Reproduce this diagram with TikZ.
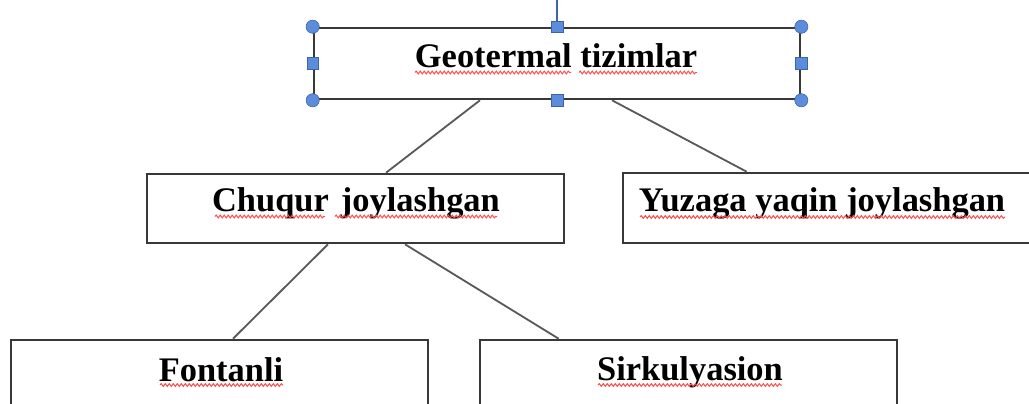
\documentclass[tikz,border=0pt]{standalone}
\usepackage{fontspec}
\setmainfont{Liberation Serif}
\usetikzlibrary{calc,decorations.pathmorphing}
\definecolor{hblue}{RGB}{91,141,220}
\definecolor{hedge}{RGB}{62,100,165}
\tikzset{
  box/.style={draw=black!78,line width=1.8pt,rectangle,inner sep=0pt},
  lbl/.style={anchor=base,inner sep=0pt,font=\fontsize{24.5}{29}\selectfont\bfseries},
  link/.style={draw=black!65,line width=1.3pt},
  squig/.style={draw=red!70,line width=0.7pt,decorate,decoration={snake,segment length=0.1cm,amplitude=0.035cm}},
  hcirc/.style={circle,fill=hblue,draw=hedge,line width=0.4pt,minimum size=0.33cm,inner sep=0pt},
  hsq/.style={rectangle,fill=hblue,draw=hedge,line width=0.4pt,minimum size=0.29cm,inner sep=0pt}
}

\begin{document}
\begin{tikzpicture}[x=0.025cm,y=-0.025cm]
\useasboundingbox (0,0) rectangle (1029,403);
\clip (0,0) rectangle (1029,403);

\node[box,minimum width=12.15cm,minimum height=1.775cm] (geo) at (557,63.5) {};
\node[box,minimum width=10.425cm,minimum height=1.725cm] (chuqur) at (355.5,208.5) {};
\node[box,minimum width=10.55cm,minimum height=1.75cm] (yuzaga) at (834,208) {};
\node[box,minimum width=10.425cm,minimum height=2cm] (fontanli) at (219.5,380) {};
\node[box,minimum width=10.425cm,minimum height=2cm] (sirk) at (688.5,380) {};

\node[lbl] (geot) at (556,67) {Geotermal tizimlar};
\node[lbl] (chuqurt) at (356,211) {Chuqur\hspace{0.35em}joylashgan};
\node[lbl] (yuzagat) at (822,211) {Yuzaga yaqin joylashgan};
\node[lbl] (fontanlit) at (221,381) {Fontanli};
\node[lbl] (sirkt) at (690,380) {Sirkulyasion};

\draw[squig] (415,72.5) -- (571,72.5);
\draw[squig] (579,72.5) -- (697,72.5);
\draw[squig] (215,216.5) -- (325,216.5);
\draw[squig] (335,216.5) -- (497,216.5);
\draw[squig] (640,217) -- (1005,217);
\draw[squig] (160,385) -- (283,385);
\draw[squig] (598,385) -- (782,385);

\draw[link] ($(geo.south)+(-77,0)$) -- ($(chuqur.north)+(30.5,0)$);
\draw[link] ($(geo.south)+(55,0)$) -- ($(yuzaga.north west)+(125,0)$);
\draw[link] ($(chuqur.south)+(-27.5,0)$) -- ($(fontanli.north)+(13.5,0)$);
\draw[link] ($(chuqur.south)+(49.5,0)$) -- ($(sirk.north west)+(80,0)$);

\coordinate (rot) at (geo.north |- 0,0);
\draw[hedge,line width=1pt] (geo.north) -- (rot);
\foreach \a in {north west,north east,south west,south east}
  \node[hcirc] at (geo.\a) {};
\foreach \a in {north,south,east,west}
  \node[hsq] at (geo.\a) {};
\end{tikzpicture}
\end{document}
